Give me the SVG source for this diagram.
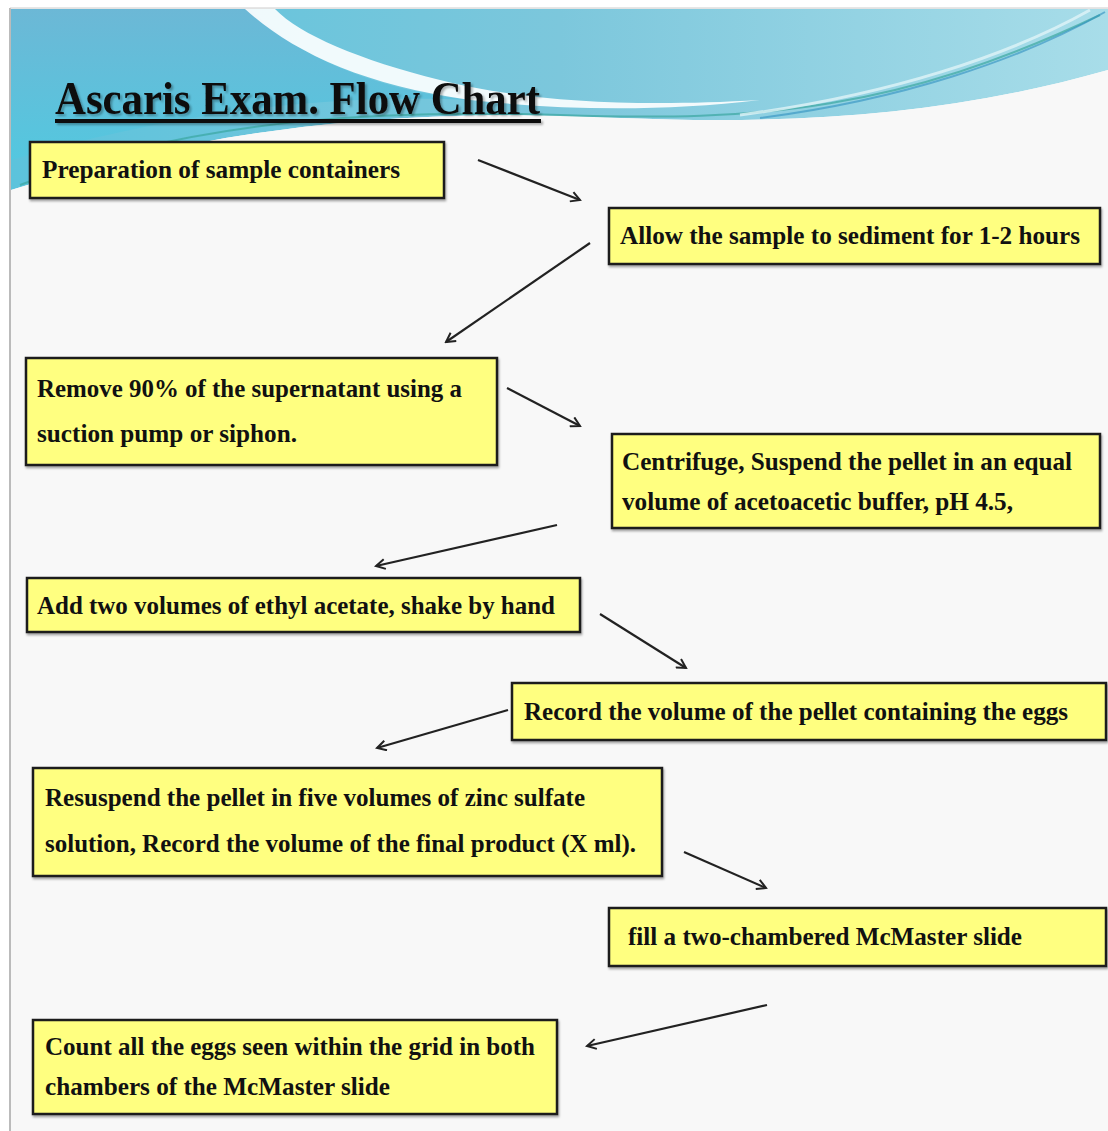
<svg xmlns="http://www.w3.org/2000/svg" width="1108" height="1131" viewBox="0 0 1108 1131">
<defs>
<linearGradient id="sky" x1="0" y1="0" x2="1" y2="0">
<stop offset="0" stop-color="#5cc3dc"/>
<stop offset="0.5" stop-color="#7cc7dc"/>
<stop offset="1" stop-color="#a8dde9"/>
</linearGradient>
<linearGradient id="sky2" x1="0" y1="0" x2="0" y2="1">
<stop offset="0" stop-color="#6cb8d6"/>
<stop offset="1" stop-color="#54c7df"/>
</linearGradient>
<marker id="ah" viewBox="0 0 12 12" refX="10" refY="6" markerWidth="12" markerHeight="12" orient="auto" markerUnits="userSpaceOnUse">
<path d="M1,1 L10,6 L1,11" fill="none" stroke="#222" stroke-width="2"/>
</marker>
<filter id="sh" x="-5%" y="-5%" width="115%" height="130%">
<feDropShadow dx="1" dy="2" stdDeviation="1" flood-color="#000" flood-opacity="0.35"/>
</filter>
<filter id="tsh" x="-5%" y="-20%" width="110%" height="150%">
<feDropShadow dx="2" dy="2" stdDeviation="1" flood-color="#000" flood-opacity="0.3"/>
</filter>
</defs>
<style>
.box{fill:#ffff80;stroke:#1a1a1a;stroke-width:2.5;filter:url(#sh)}
.t{font-family:"Liberation Serif","DejaVu Serif",serif;font-weight:bold;font-size:26px;fill:#111}
.title{font-family:"Liberation Serif","DejaVu Serif",serif;font-weight:bold;font-size:46px;fill:#111}
.conn line{stroke:#222;stroke-width:2.2;marker-end:url(#ah)}
</style>
<rect x="0" y="0" width="1108" height="1131" fill="#ffffff"/>
<rect x="10" y="8" width="1098" height="1123" fill="#f8f8f8"/>
<line x1="10" y1="8" x2="10" y2="1131" stroke="#bbbbbb" stroke-width="2"/>
<line x1="10" y1="8" x2="1108" y2="8" stroke="#cccccc" stroke-width="1"/>
<!-- header waves -->
<path d="M11,9 H1108 V70 C 950,115 800,125 620,118 C 450,110 250,115 11,190 Z" fill="url(#sky)"/>
<path d="M11,9 H250 C 300,60 380,90 470,100 C 350,95 200,105 11,160 Z" fill="url(#sky2)"/>
<path d="M245,9 C 290,50 360,85 470,100 C 560,110 660,112 760,100 C 620,108 520,100 440,80 C 360,60 300,35 275,9 Z" fill="#ffffff" opacity="0.9"/>
<path d="M620,118 C 800,125 950,115 1108,70 V130 H620 Z" fill="#f8f8f8"/>
<path d="M11,190 C 250,115 450,110 620,118 L620,140 L11,210 Z" fill="#f8f8f8"/>
<path d="M20,185 C 200,115 400,110 560,115 C 760,122 900,110 1100,15" fill="none" stroke="#3aa6a0" stroke-width="2" opacity="0.7"/>
<path d="M760,118 C 900,100 1020,60 1105,12" fill="none" stroke="#2f8fc0" stroke-width="2" opacity="0.6"/>
<path d="M740,115 C 890,95 1010,55 1090,10" fill="none" stroke="#e0f4f8" stroke-width="3" opacity="0.8"/>
<!-- title -->
<g id="title" filter="url(#tsh)">
<text class="title" x="55" y="114" textLength="485" lengthAdjust="spacingAndGlyphs">Ascaris Exam. Flow Chart</text>
<rect x="55" y="119" width="486" height="4" fill="#111"/>
</g>
<!-- nodes -->
<g id="n1">
<rect class="box" x="30" y="142" width="414" height="56"/>
<text class="t" x="42" y="178" textLength="358" lengthAdjust="spacingAndGlyphs">Preparation of sample containers</text>
</g>
<g id="n2">
<rect class="box" x="609" y="208" width="491" height="56"/>
<text class="t" x="620" y="244" textLength="460" lengthAdjust="spacingAndGlyphs">Allow the sample to sediment for 1-2 hours</text>
</g>
<g id="n3">
<rect class="box" x="26" y="358" width="471" height="107"/>
<text class="t" x="37" y="397" textLength="425" lengthAdjust="spacingAndGlyphs">Remove 90% of the supernatant using a</text>
<text class="t" x="37" y="442" textLength="260" lengthAdjust="spacingAndGlyphs">suction pump or siphon.</text>
</g>
<g id="n4">
<rect class="box" x="612" y="434" width="488" height="94"/>
<text class="t" x="622" y="470" textLength="450" lengthAdjust="spacingAndGlyphs">Centrifuge, Suspend the pellet in an equal</text>
<text class="t" x="622" y="510" textLength="391" lengthAdjust="spacingAndGlyphs">volume of acetoacetic buffer, pH 4.5,</text>
</g>
<g id="n5">
<rect class="box" x="27" y="578" width="553" height="54"/>
<text class="t" x="37" y="614" textLength="518" lengthAdjust="spacingAndGlyphs">Add two volumes of ethyl acetate, shake by hand</text>
</g>
<g id="n6">
<rect class="box" x="512" y="683" width="594" height="57"/>
<text class="t" x="524" y="720" textLength="544" lengthAdjust="spacingAndGlyphs">Record the volume of the pellet containing the eggs</text>
</g>
<g id="n7">
<rect class="box" x="33" y="768" width="629" height="108"/>
<text class="t" x="45" y="806" textLength="540" lengthAdjust="spacingAndGlyphs">Resuspend the pellet in five volumes of zinc sulfate</text>
<text class="t" x="45" y="852" textLength="591" lengthAdjust="spacingAndGlyphs">solution, Record the volume of the final product (X ml).</text>
</g>
<g id="n8">
<rect class="box" x="609" y="908" width="497" height="58"/>
<text class="t" x="628" y="945" textLength="394" lengthAdjust="spacingAndGlyphs">fill a two-chambered McMaster slide</text>
</g>
<g id="n9">
<rect class="box" x="33" y="1020" width="524" height="94"/>
<text class="t" x="45" y="1055" textLength="490" lengthAdjust="spacingAndGlyphs">Count all the eggs seen within the grid in both</text>
<text class="t" x="45" y="1095" textLength="345" lengthAdjust="spacingAndGlyphs">chambers of the McMaster slide</text>
</g>
<!-- connectors -->
<g id="connectors" class="conn">
<line x1="478" y1="160" x2="580" y2="200"/>
<line x1="590" y1="243" x2="446" y2="342"/>
<line x1="507" y1="388" x2="580" y2="426"/>
<line x1="557" y1="525" x2="376" y2="566"/>
<line x1="600" y1="614" x2="686" y2="668"/>
<line x1="508" y1="710" x2="377" y2="748"/>
<line x1="684" y1="852" x2="766" y2="888"/>
<line x1="767" y1="1005" x2="587" y2="1046"/>
</g>
</svg>
